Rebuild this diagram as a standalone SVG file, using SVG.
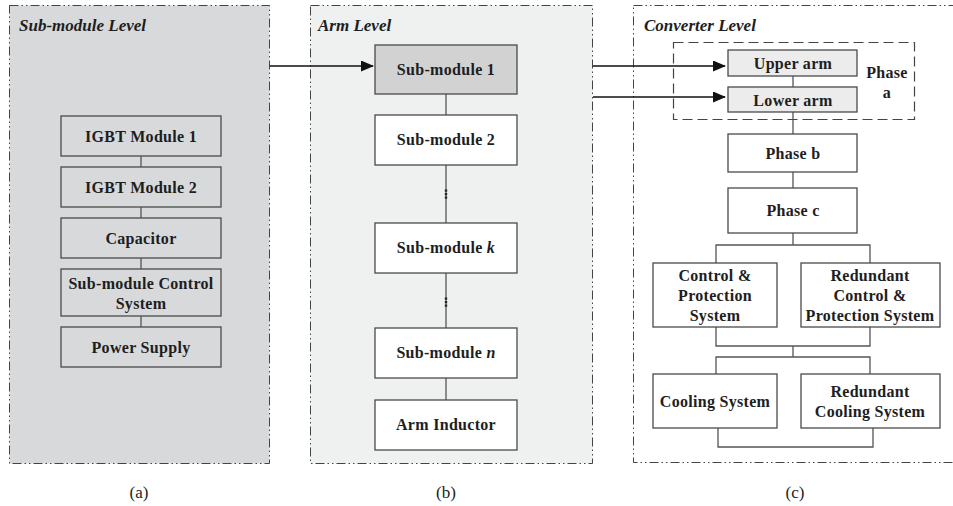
<svg xmlns="http://www.w3.org/2000/svg" width="953" height="506" viewBox="0 0 953 506">
<style>
.panel{stroke:#444;stroke-width:1;stroke-dasharray:9,3,1.5,3,1.5,3}
.box{stroke:#4a4a4a;stroke-width:1.3}
.t{font-family:"Liberation Serif","Times New Roman","DejaVu Serif",serif;font-weight:bold;font-size:16px;fill:#1e1e1e;text-anchor:middle;letter-spacing:0.3px}
.title{font-family:"Liberation Serif","Times New Roman","DejaVu Serif",serif;font-weight:bold;font-style:italic;font-size:17px;fill:#1e1e1e}
.cap{font-family:"Liberation Serif","Times New Roman","DejaVu Serif",serif;font-size:17px;fill:#1e1e1e;text-anchor:middle}
.ln{stroke:#555;stroke-width:1.3;fill:none}
.arr{stroke:#111;stroke-width:1.6;fill:none}
</style>
<defs>
<marker id="ah" markerWidth="13" markerHeight="11" refX="12" refY="5.5" orient="auto" markerUnits="userSpaceOnUse">
<path d="M0,0 L13,5.5 L0,11 Z" fill="#111"/>
</marker>
</defs>

<g id="panel-a">
<rect class="panel" x="9.5" y="5.5" width="260" height="458" fill="#d8d9db"/>
<text class="title" x="19" y="31">Sub-module Level</text>
</g>
<g id="panel-b">
<rect class="panel" x="310.5" y="5.5" width="282" height="458" fill="#eff0f0"/>
<text class="title" x="318" y="31">Arm Level</text>
</g>
<g id="panel-c">
<rect class="panel" x="633.5" y="5.5" width="330" height="457" fill="#ffffff"/>
<text class="title" x="644" y="31">Converter Level</text>
</g>

<g id="connectors">
<line class="ln" x1="141" y1="156" x2="141" y2="167"/>
<line class="ln" x1="141" y1="207" x2="141" y2="218"/>
<line class="ln" x1="141" y1="258" x2="141" y2="269"/>
<line class="ln" x1="141" y1="316" x2="141" y2="327"/>
<line class="ln" x1="446" y1="94" x2="446" y2="115"/>
<line class="ln" x1="446" y1="165" x2="446" y2="223"/>
<line class="ln" x1="446" y1="273" x2="446" y2="328"/>
<line class="ln" x1="446" y1="378" x2="446" y2="400"/>
<g fill="#222">
<rect x="444.8" y="189.5" width="2.4" height="2.2"/>
<rect x="444.8" y="193" width="2.4" height="2.2"/>
<rect x="444.8" y="196.5" width="2.4" height="2.2"/>
<rect x="444.8" y="297.5" width="2.4" height="2.2"/>
<rect x="444.8" y="301" width="2.4" height="2.2"/>
<rect x="444.8" y="304.5" width="2.4" height="2.2"/>
</g>
<line class="arr" x1="270" y1="66" x2="373" y2="66" marker-end="url(#ah)"/>
<line class="arr" x1="593" y1="66" x2="725" y2="66" marker-end="url(#ah)"/>
<line class="arr" x1="593" y1="97" x2="725" y2="97" marker-end="url(#ah)"/>
<line class="ln" x1="793" y1="76" x2="793" y2="87"/>
<line class="ln" x1="793" y1="112" x2="793" y2="134"/>
<line class="ln" x1="793" y1="172" x2="793" y2="188"/>
<polyline class="ln" points="793,233 793,245"/>
<polyline class="ln" points="716,263 716,245 870,245 870,263"/>
<polyline class="ln" points="716,327 716,346 870,346 870,327"/>
<line class="ln" x1="793" y1="346" x2="793" y2="357"/>
<polyline class="ln" points="716,374 716,357 870,357 870,374"/>
<polyline class="ln" points="718,428 718,447 873,447 873,428"/>
</g>

<g id="igbt1"><rect class="box" x="61" y="116" width="160" height="40" fill="#d8d9db"/><text class="t" x="141" y="141.5">IGBT Module 1</text></g>
<g id="igbt2"><rect class="box" x="61" y="167" width="160" height="40" fill="#d8d9db"/><text class="t" x="141" y="192.5">IGBT Module 2</text></g>
<g id="capacitor"><rect class="box" x="61" y="218" width="160" height="40" fill="#d8d9db"/><text class="t" x="141" y="243.5">Capacitor</text></g>
<g id="smcs"><rect class="box" x="61" y="269" width="160" height="47" fill="#d8d9db"/><text class="t" x="141" y="289">Sub-module Control</text><text class="t" x="141" y="309">System</text></g>
<g id="power"><rect class="box" x="61" y="327" width="160" height="40" fill="#d8d9db"/><text class="t" x="141" y="352.5">Power Supply</text></g>

<g id="sm1"><rect class="box" x="375" y="45" width="142" height="49" fill="#d2d2d2"/><text class="t" x="446" y="75">Sub-module 1</text></g>
<g id="sm2"><rect class="box" x="375" y="115" width="142" height="50" fill="#ffffff"/><text class="t" x="446" y="145">Sub-module 2</text></g>
<g id="smk"><rect class="box" x="375" y="223" width="142" height="50" fill="#ffffff"/><text class="t" x="446" y="253">Sub-module <tspan font-style="italic">k</tspan></text></g>
<g id="smn"><rect class="box" x="375" y="328" width="142" height="50" fill="#ffffff"/><text class="t" x="446" y="358">Sub-module <tspan font-style="italic">n</tspan></text></g>
<g id="inductor"><rect class="box" x="375" y="400" width="142" height="50" fill="#ffffff"/><text class="t" x="446" y="430">Arm Inductor</text></g>

<g id="phase-a">
<rect x="673.5" y="42.5" width="241" height="77" fill="none" stroke="#444" stroke-width="1.2" stroke-dasharray="10,5"/>
<text class="t" x="887" y="78">Phase</text>
<text class="t" x="887" y="98">a</text>
</g>
<g id="upper"><rect class="box" x="728" y="50" width="129" height="26" fill="#ececec"/><text class="t" x="793" y="68.5">Upper arm</text></g>
<g id="lower"><rect class="box" x="728" y="87" width="129" height="25" fill="#ececec"/><text class="t" x="793" y="105.5">Lower arm</text></g>
<g id="phase-b"><rect class="box" x="728" y="134" width="129" height="38" fill="#ffffff"/><text class="t" x="793" y="159">Phase b</text></g>
<g id="phase-c"><rect class="box" x="728" y="188" width="129" height="45" fill="#ffffff"/><text class="t" x="793" y="216">Phase c</text></g>
<g id="cps"><rect class="box" x="653" y="263" width="124" height="64" fill="#ffffff"/><text class="t" x="715" y="281">Control &amp;</text><text class="t" x="715" y="301">Protection</text><text class="t" x="715" y="321">System</text></g>
<g id="rcps"><rect class="box" x="801" y="263" width="139" height="64" fill="#ffffff"/><text class="t" x="870" y="281">Redundant</text><text class="t" x="870" y="301">Control &amp;</text><text class="t" x="870" y="321">Protection System</text></g>
<g id="cooling"><rect class="box" x="653" y="374" width="124" height="54" fill="#ffffff"/><text class="t" x="715" y="407">Cooling System</text></g>
<g id="rcooling"><rect class="box" x="801" y="374" width="139" height="54" fill="#ffffff"/><text class="t" x="870" y="397">Redundant</text><text class="t" x="870" y="417">Cooling System</text></g>

<g id="captions">
<text class="cap" x="139" y="498">(a)</text>
<text class="cap" x="446" y="498">(b)</text>
<text class="cap" x="795" y="498">(c)</text>
</g>
</svg>
